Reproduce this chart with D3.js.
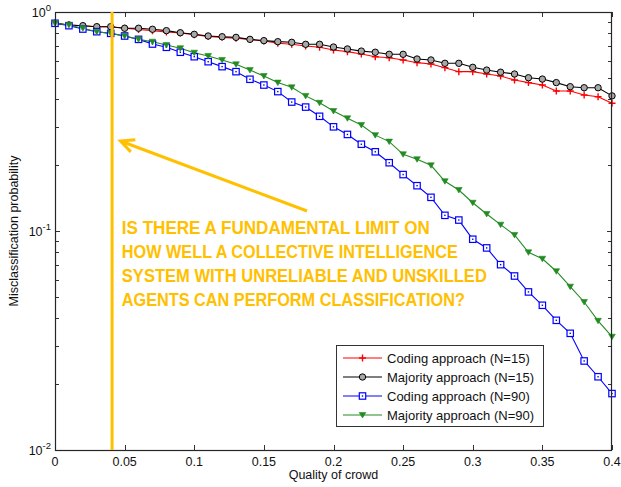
<!DOCTYPE html>
<html>
<head>
<meta charset="utf-8">
<script src="https://cdn.jsdelivr.net/npm/d3@7"></script>
<style>
  body { margin: 0; background: #fff; }
  svg text { font-family: "Liberation Sans", Arial, sans-serif; }
</style>
</head>
<body>
<svg id="chart" width="621" height="487"></svg>
<script>

// quality of crowd, 0 .. 0.4 step 0.01
var quality = d3.range(41).map(function(i) { return +(i * 0.01).toFixed(2); });

var codingN15 = [0.888, 0.872, 0.866, 0.857, 0.857, 0.843, 0.832, 0.822, 0.810, 0.802,
                 0.788, 0.773, 0.766, 0.759, 0.749, 0.737, 0.720, 0.712, 0.699, 0.690,
                 0.671, 0.659, 0.643, 0.625, 0.618, 0.604, 0.587, 0.579, 0.557, 0.534,
                 0.534, 0.521, 0.510, 0.489, 0.476, 0.464, 0.436, 0.436, 0.418, 0.410,
                 0.383];

var majorityN15 = [0.888, 0.872, 0.866, 0.857, 0.857, 0.843, 0.843, 0.834, 0.822, 0.804,
                   0.791, 0.777, 0.771, 0.766, 0.750, 0.740, 0.732, 0.727, 0.712, 0.712,
                   0.692, 0.678, 0.663, 0.655, 0.641, 0.641, 0.610, 0.604, 0.583, 0.583,
                   0.559, 0.543, 0.531, 0.521, 0.501, 0.494, 0.476, 0.456, 0.451, 0.451,
                   0.414];

var codingN90 = [0.888, 0.866, 0.836, 0.813, 0.799, 0.777, 0.750, 0.714, 0.690, 0.655,
                 0.625, 0.593, 0.563, 0.534, 0.493, 0.464, 0.433, 0.388, 0.368, 0.334,
                 0.299, 0.276, 0.249, 0.230, 0.205, 0.181, 0.161, 0.1425, 0.1179, 0.1122,
                 0.0917, 0.0837, 0.0702, 0.0623, 0.0527, 0.0458, 0.0391, 0.0341, 0.0255, 0.0216,
                 0.0181];

var majorityN90 = [0.888, 0.872, 0.843, 0.813, 0.799, 0.777, 0.750, 0.732, 0.707, 0.683,
                   0.652, 0.630, 0.604, 0.577, 0.543, 0.510, 0.476, 0.453, 0.414, 0.385,
                   0.353, 0.327, 0.305, 0.274, 0.256, 0.224, 0.2126, 0.1995, 0.1687, 0.1539,
                   0.1346, 0.1196, 0.1069, 0.0959, 0.0799, 0.0747, 0.0655, 0.0557, 0.0474, 0.0389,
                   0.0329];

var seriesNames = ['Coding approach (N=15)', 'Majority approach (N=15)', 'Coding approach (N=90)', 'Majority approach (N=90)'];
var xTicks = [0, 0.05, 0.1, 0.15, 0.2, 0.25, 0.3, 0.35, 0.4];
var xTickLabels = ['0', '0.05', '0.1', '0.15', '0.2', '0.25', '0.3', '0.35', '0.4'];
var yDecades = [1, 0.1, 0.01];
var yDecadeExps = ['0', '-1', '-2'];

// annotation (in data units)
var limitQuality = 0.041;
var arrowFrom = [0.181, 0.1234];
var arrowTo = [0.047, 0.2576];
var noteAt = [0.048, 0.0969];
var noteLines = ['IS THERE A FUNDAMENTAL LIMIT ON',
                 'HOW WELL A COLLECTIVE INTELLIGENCE',
                 'SYSTEM WITH UNRELIABLE AND UNSKILLED',
                 'AGENTS CAN PERFORM CLASSIFICATION?'];

var width = 621, height = 487;
var margin = {top: 12, right: 9, bottom: 37, left: 55};
var orange = '#ffc000';

var svg = d3.select('#chart');

var x = d3.scaleLinear().domain([0, 0.4]).range([margin.left, width - margin.right]);
var y = d3.scaleLog().domain([0.01, 1]).range([height - margin.bottom, margin.top]);

var series = [
	{name: seriesNames[0], values: codingN15, color: '#ff0000', marker: 'plus'},
	{name: seriesNames[1], values: majorityN15, color: '#000000', marker: 'circle'},
	{name: seriesNames[2], values: codingN90, color: '#0000ff', marker: 'square'},
	{name: seriesNames[3], values: majorityN90, color: '#228b22', marker: 'triangle'}
];

// ticks (inward, all four sides)
var minorTicks = [];
[0.01, 0.1].forEach(function(d) {
	for (var k = 2; k <= 9; k++) minorTicks.push(d * k);
});

var axes = svg.append('g').attr('stroke', '#333').attr('stroke-width', 1).attr('fill', 'none');

xTicks.forEach(function(t) {
	var px = Math.round(x(t)) + 0.5;
	axes.append('line').attr('x1', px).attr('x2', px).attr('y1', y(0.01)).attr('y2', y(0.01) - 5);
	axes.append('line').attr('x1', px).attr('x2', px).attr('y1', y(1)).attr('y2', y(1) + 5);
});

minorTicks.concat(yDecades).forEach(function(t) {
	var py = Math.round(y(t)) + 0.5;
	var len = yDecades.indexOf(t) >= 0 ? 5 : 4;
	axes.append('line').attr('x1', x(0)).attr('x2', x(0) + len).attr('y1', py).attr('y2', py);
	axes.append('line').attr('x1', x(0.4)).attr('x2', x(0.4) - len).attr('y1', py).attr('y2', py);
});

// lines
var line = d3.line()
		.x(function(d, i) { return x(quality[i]); })
		.y(function(d) { return y(d); });

series.forEach(function(s) {
	svg.append('path').datum(s.values)
		.attr('fill', 'none')
		.attr('stroke', s.color)
		.attr('stroke-width', 1.1)
		.attr('d', line);
});

// markers
function drawMarker(g, type, color, cx, cy) {
	if (type == 'plus') {
		g.append('path').attr('d', 'M' + (cx - 3.5) + ',' + cy + 'h7M' + cx + ',' + (cy - 3.5) + 'v7')
			.attr('stroke', color).attr('stroke-width', 1.4).attr('fill', 'none');
	} else if (type == 'circle') {
		g.append('circle').attr('cx', cx).attr('cy', cy).attr('r', 3.2)
			.attr('fill', '#a8a8a8').attr('stroke', color).attr('stroke-width', 1);
	} else if (type == 'square') {
		g.append('rect').attr('x', cx - 3.2).attr('y', cy - 3.2).attr('width', 6.4).attr('height', 6.4)
			.attr('fill', '#fff').attr('stroke', color).attr('stroke-width', 1.2);
		g.append('rect').attr('x', cx - 0.7).attr('y', cy - 0.7).attr('width', 1.4).attr('height', 1.4)
			.attr('fill', color);
	} else {
		g.append('path').attr('d', 'M' + (cx - 3.3) + ',' + (cy - 2.5) + 'h6.6L' + cx + ',' + (cy + 3) + 'Z')
			.attr('fill', color).attr('stroke', color).attr('stroke-width', 0.6);
	}
}

series.forEach(function(s) {
	var g = svg.append('g');
	s.values.forEach(function(v, i) {
		drawMarker(g, s.marker, s.color, x(quality[i]), y(v));
	});
});

// frame
svg.append('rect')
	.attr('x', x(0) + 0.5).attr('y', y(1) + 0.5)
	.attr('width', x(0.4) - x(0) - 1).attr('height', y(0.01) - y(1))
	.attr('fill', 'none').attr('stroke', '#262626').attr('stroke-width', 1.2);

// x tick labels
svg.append('g').selectAll('text').data(xTicks).enter().append('text')
	.attr('x', function(d) { return x(d); })
	.attr('y', y(0.01) + 16)
	.attr('text-anchor', 'middle')
	.attr('font-size', 12.5)
	.attr('fill', '#111')
	.text(function(d, i) { return xTickLabels[i]; });

// y tick labels 10^k
yDecades.forEach(function(d, i) {
	var t = svg.append('text')
		.attr('x', x(0) - 4)
		.attr('y', y(d) + 5)
		.attr('text-anchor', 'end')
		.attr('font-size', 12.5)
		.attr('fill', '#111');
	t.append('tspan').text('10');
	t.append('tspan').attr('dy', -6).attr('font-size', 9.5).text(yDecadeExps[i]);
});

// axis titles
svg.append('text')
	.attr('x', (x(0) + x(0.4)) / 2)
	.attr('y', height - 8)
	.attr('text-anchor', 'middle')
	.attr('font-size', 12.5)
	.attr('fill', '#111')
	.text('Quality of crowd');

svg.append('text')
	.attr('transform', 'translate(18,' + ((y(1) + y(0.01)) / 2) + ') rotate(-90)')
	.attr('text-anchor', 'middle')
	.attr('font-size', 12.5)
	.attr('fill', '#111')
	.text('Misclassification probability');

// legend
var legend = svg.append('g');
var lx = 336, ly = 345, rowH = 19;
legend.append('rect')
	.attr('x', lx + 0.5).attr('y', ly + 0.5).attr('width', 207).attr('height', 81)
	.attr('fill', '#fff').attr('stroke', '#333').attr('stroke-width', 1);

series.forEach(function(s, i) {
	var cy = ly + 13 + i * rowH;
	legend.append('line')
		.attr('x1', lx + 7).attr('x2', lx + 46).attr('y1', cy).attr('y2', cy)
		.attr('stroke', s.color).attr('stroke-width', 1.2);
	drawMarker(legend, s.marker, s.color, lx + 26.5, cy);
	legend.append('text')
		.attr('x', lx + 51).attr('y', cy + 4.5)
		.attr('font-size', 13).attr('fill', '#111')
		.text(s.name);
});

// annotation: vertical limit line
svg.append('line')
	.attr('x1', x(limitQuality)).attr('x2', x(limitQuality))
	.attr('y1', y(1)).attr('y2', y(0.01))
	.attr('stroke', orange).attr('stroke-width', 3);

// arrow
var ax0 = x(arrowFrom[0]), ay0 = y(arrowFrom[1]);
var ax1 = x(arrowTo[0]), ay1 = y(arrowTo[1]);
var ang = Math.atan2(ay0 - ay1, ax0 - ax1);
var headLen = 15, spread = 0.45;
var arrow = d3.path();
arrow.moveTo(ax0, ay0);
arrow.lineTo(ax1, ay1);
arrow.moveTo(ax1 + headLen * Math.cos(ang - spread), ay1 + headLen * Math.sin(ang - spread));
arrow.lineTo(ax1, ay1);
arrow.lineTo(ax1 + headLen * Math.cos(ang + spread), ay1 + headLen * Math.sin(ang + spread));
svg.append('path')
	.attr('d', arrow.toString())
	.attr('fill', 'none').attr('stroke', orange).attr('stroke-width', 3)
	.attr('stroke-linejoin', 'miter').attr('stroke-linecap', 'butt');

// question text
var noteWidths = [308, 336, 365, 343];
svg.append('g').selectAll('text').data(noteLines).enter().append('text')
	.attr('x', x(noteAt[0]))
	.attr('y', function(d, i) { return y(noteAt[1]) + i * 24; })
	.attr('font-family', 'Lato, "Open Sans", sans-serif')
	.attr('font-weight', 700)
	.attr('font-size', 19)
	.attr('fill', orange)
	.attr('textLength', function(d, i) { return noteWidths[i]; })
	.attr('lengthAdjust', 'spacingAndGlyphs')
	.text(function(d) { return d; });

</script>
</body>
</html>
